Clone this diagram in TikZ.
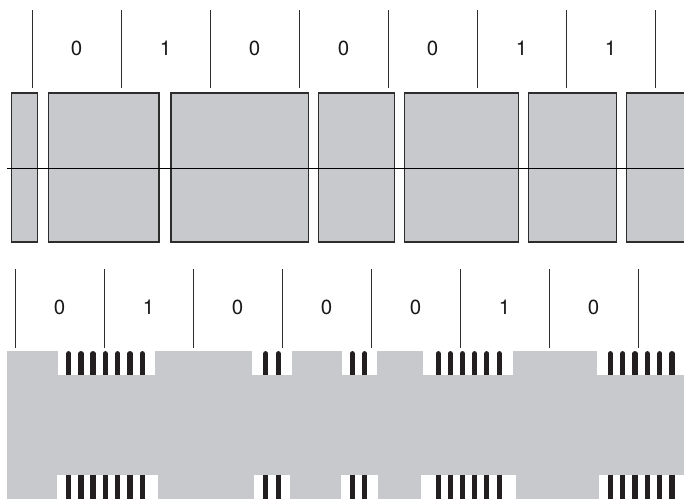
\documentclass[tikz,border=0pt]{standalone}
\usepackage{fontspec}
\setmainfont{TeX Gyre Heros}
\definecolor{gfill}{RGB}{200,201,204}
\definecolor{barc}{RGB}{35,31,32}
\definecolor{edge}{RGB}{45,45,45}
\begin{document}
\begin{tikzpicture}[x=1pt,y=-1pt,
  tick/.style={draw=edge,line width=1.0pt},
  lab/.style={inner sep=0pt,font=\fontsize{20.5}{20.5}\selectfont,text=black!90},
  cell/.style={fill=gfill,draw=edge,line width=1.3pt},
  topbar/.style={draw=barc,line width=5.3pt},
  notch/.style={fill=white}]
\useasboundingbox (0,0) rectangle (684,499);
% ---------- top section ----------
\foreach \i/\x in {1/32,2/121,3/210,4/299,5/388,6/477,7/566,8/655}{
  \coordinate (tt\i) at (\x,10);
  \coordinate (tb\i) at (\x,88);
  \draw[tick] (tt\i) -- (tb\i);
}
\foreach \i/\x/\b in {1/76.5/0,2/165.5/1,3/254.5/0,4/343.5/0,5/432.5/0,6/521.5/1,7/610.5/1}{
  \node[lab] (tl\i) at (\x,48) {\b};
}
\foreach \i/\a/\b in {1/11.7/37.7,2/48.3/159,3/171/308.3,4/318.3/394.7,5/404.3/518.3,6/528.7/616.7}{
  \path[cell] (\a,93) rectangle (\b,242);
}
\fill[gfill] (626.3,93) rectangle (684,242);
\draw[edge,line width=1.3pt] (684,93) -- (626.3,93) -- (626.3,242) -- (684,242);
\coordinate (hl) at (7,168.3);
\coordinate (hr) at (684,168.3);
\draw[black,line width=1.4pt] (hl) -- (hr);
% ---------- bottom section ----------
\foreach \i/\x in {1/15,2/104,3/193,4/282,5/371,6/460,7/549,8/638}{
  \coordinate (bt\i) at (\x,269);
  \coordinate (bb\i) at (\x,347.5);
  \draw[tick] (bt\i) -- (bb\i);
}
\foreach \i/\x/\b in {1/59.5/0,2/148.5/1,3/237.5/0,4/326.5/0,5/415.5/0,6/504.5/1,7/593.5/0}{
  \node[lab] (bl\i) at (\x,307.5) {\b};
}
\fill[gfill] (7,351) rectangle (684,499);
% top notches
\foreach \a/\b in {58/155.3,252.3/292,342.3/376.7,423.3/513.3,596.7/684}{
  \fill[notch] (\a,351) rectangle (\b,374.8);
}
% bottom notches
\foreach \a/\b in {57/157.5,253.7/290.3,340.7/377.7,421.3/515.7,598.7/684}{
  \fill[notch] (\a,474.5) rectangle (\b,499);
}
% bars
\foreach \x in {68.7,81,93,105.3,117.7,130,142.3,
                265.7,278.3,
                352.3,364.7,
                438.3,450.3,462.5,474.6,486.8,499.3,
                610.3,622.7,635,647.3,659.7,672}{
  \draw[topbar,line cap=round] (\x,353.7) -- (\x,368);
  \draw[topbar] (\x,362) -- (\x,374.8);
  \draw[topbar] (\x,474.5) -- (\x,499);
}
\end{tikzpicture}
\end{document}
